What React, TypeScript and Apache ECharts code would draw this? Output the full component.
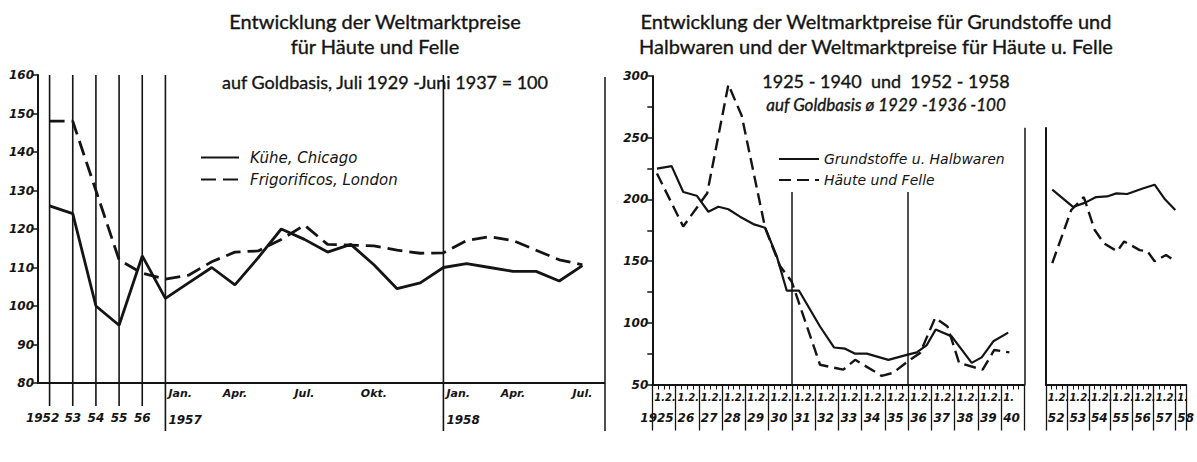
import React, { useEffect, useRef } from "react";
import * as echarts from "echarts";

const INK = "#141414";
const AX_FONT = "DejaVu Sans";
const TITLE_FONT = "Lato";

// ---------- Left chart: Häute und Felle (1952–1958) ----------
const leftCategories = [
  "1952", "1953", "1954", "1955", "1956",
  "1957-01", "1957-02", "1957-03", "1957-04", "1957-05", "1957-06",
  "1957-07", "1957-08", "1957-09", "1957-10", "1957-11", "1957-12",
  "1958-01", "1958-02", "1958-03", "1958-04", "1958-05", "1958-06", "1958-07",
];
const leftYearLabels: Record<string, string> = {
  "1952": "1952", "1953": "53", "1954": "54", "1955": "55", "1956": "56",
};
const leftMonthLabels: Record<string, string> = {
  "1957-04": "Apr.", "1957-07": "Jul.", "1957-10": "Okt.", "1958-04": "Apr.", "1958-07": "Jul.",
};
const leftJanLabels: Record<string, [string, string]> = {
  "1957-01": ["Jan.", "1957"],
  "1958-01": ["Jan.", "1958"],
};
const leftGuideLines = ["1952", "1953", "1954", "1955", "1956", "1957-01", "1958-01"];
const kueheChicago = [126, 124, 100, 95, 113, 102, 106, 110, 105.5, 112.5, 120, 117.3, 114, 116, 110.7, 104.5, 106, 110, 111, 110, 109, 109, 106.5, 110.5];
const frigorificosLondon = [148, 148, 130, 112, 108.5, 107, 108, 111.5, 114, 114.3, 117.3, 121, 116, 115.8, 115.6, 114.5, 113.7, 113.8, 117, 118, 117, 114.5, 112, 110.7];
const leftYMin = 80;
const leftYMax = 160;

// ---------- Right chart: Grundstoffe / Häute (1925–1940, 1952–1958) ----------
const rightYearsA = [1925, 1926, 1927, 1928, 1929, 1930, 1931, 1932, 1933, 1934, 1935, 1936, 1937, 1938, 1939, 1940];
const rightYearLabelsA = ["1925", "26", "27", "28", "29", "30", "31", "32", "33", "34", "35", "36", "37", "38", "39", "40"];
const rightDateLabelsA = ["1.2.", "1.2.", "1.2.", "1.2.", "1.2.", "1.2.", "1.2.", "1.2.", "1.2.", "1.2.", "1.2.", "1.2.", "1.2.", "1.2.", "1.2.", "1."];
const rightYearsB = [1952, 1953, 1954, 1955, 1956, 1957, 1958];
const rightYearLabelsB = ["52", "53", "54", "55", "56", "57", "58"];
const rightDateLabelsB = ["1.2.", "1.2.", "1.2.", "1.2.", "1.2.", "1.2.", "1."];

const grundTimeA = [1925.2, 1925.83, 1926.33, 1926.91, 1927.41, 1927.84, 1928.27, 1928.77, 1929.34, 1929.85, 1930.35, 1930.78, 1931.31, 1932.21, 1932.81, 1933.29, 1933.72, 1934.22, 1935.15, 1935.94, 1936.37, 1936.8, 1937.18, 1937.87, 1938.73, 1939.16, 1939.66, 1940.3];
const grundValA = [225, 227, 206, 203, 190, 194, 192, 186, 180, 177, 154, 126, 126, 97, 80, 79, 75, 75, 70, 74, 76, 82, 94.5, 89, 67.5, 72, 85, 92];
const haeuteTimeA = [1925.2, 1926.33, 1927.36, 1928.27, 1928.84, 1929.85, 1930.49, 1930.99, 1932.21, 1933.21, 1933.72, 1934.86, 1935.36, 1936.0, 1936.51, 1937.16, 1937.69, 1938.19, 1939.2, 1939.7, 1940.35];
const haeuteValA = [221, 178, 205, 293, 268, 177, 146, 133.5, 66, 62, 70, 57, 59.5, 69, 75.5, 104, 97, 67.5, 62, 78, 76];

const grundTimeB = [1952.3, 1953.26, 1953.83, 1954.33, 1954.84, 1955.27, 1955.77, 1956.49, 1957.04, 1957.53, 1958.0];
const grundValB = [208, 194, 197.5, 202, 202.5, 205, 204.5, 209, 212, 200, 191.5];
const haeuteTimeB = [1952.3, 1953.18, 1953.76, 1954.26, 1954.69, 1955.31, 1955.63, 1956.35, 1956.71, 1957.04, 1957.57, 1958.0];
const haeuteValB = [148.5, 191.5, 202, 175.5, 164.5, 158, 166, 159, 158, 150, 155, 150];

// guide lines inside the right chart (year, upper value)
const rightGuideYears = [1931, 1936, 1941];
const rightGuideTops = [206, 206, 258];

const pairs = (xs: number[], ys: number[]) => xs.map((x, i) => [x, ys[i]]);

const labelFont = { fontFamily: AX_FONT, fontStyle: "italic" as const, fontWeight: "bold" as const, color: INK };

function yearLabel(years: number[], dates: string[], yrs: string[]) {
  return (v: number) => {
    const i = years.findIndex((y) => Math.abs(y - v) < 0.01);
    if (i < 0) return "";
    const key = yrs[i].length > 2 ? "w" : "b";
    return `{a|${dates[i]}}\n{${key}|${yrs[i]}}`;
  };
}

const rightRich = {
  a: { ...labelFont, fontSize: 10, lineHeight: 16 },
  b: { ...labelFont, fontSize: 12, lineHeight: 24 },
  w: { ...labelFont, fontSize: 12, lineHeight: 24, padding: [0, 0, 0, -14] },
};

export default function App() {
  const ref = useRef<HTMLDivElement>(null);

  useEffect(() => {
    if (!ref.current) return;
    const chart = echarts.init(ref.current, undefined, { renderer: "svg" });

    const hiddenSymbol = { color: "transparent", borderColor: "transparent", borderWidth: 0, opacity: 0 };

    const option: any = {
      animation: false,
      backgroundColor: "#ffffff",
      grid: [
        { left: 38, top: 75, width: 556, height: 308 },
        { left: 652.3, top: 76, width: 372.2, height: 308.5 },
        { left: 1045.8, top: 128, width: 151.2, height: 256.5 },
      ],
      legend: [
        {
          data: ["Kühe, Chicago", "Frigorificos, London"],
          orient: "vertical",
          left: 195,
          top: 145,
          itemWidth: 38,
          itemHeight: 14,
          itemGap: 7,
          selectedMode: false,
          itemStyle: hiddenSymbol,
          textStyle: { fontFamily: AX_FONT, fontStyle: "italic", fontSize: 15, color: INK, padding: [0, 0, 0, 6] },
        },
        {
          data: ["Grundstoffe u. Halbwaren", "Häute und Felle"],
          orient: "vertical",
          left: 773,
          top: 147,
          itemWidth: 40,
          itemHeight: 14,
          itemGap: 7,
          selectedMode: false,
          itemStyle: hiddenSymbol,
          textStyle: { fontFamily: AX_FONT, fontStyle: "italic", fontSize: 14, color: INK },
        },
      ],
      xAxis: [
        {
          gridIndex: 0,
          type: "category",
          data: leftCategories,
          boundaryGap: true,
          axisLine: { lineStyle: { color: INK, width: 2 } },
          axisTick: {
            alignWithLabel: true,
            interval: (i: number) => i > 5 && i !== 17,
            length: 8,
            lineStyle: { color: INK, width: 1.3 },
          },
          axisLabel: {
            interval: 0,
            margin: 5,
            fontSize: 11,
            ...labelFont,
            formatter: (v: string) => leftMonthLabels[v] ?? "",
          },
          splitLine: { show: false },
        },
        {
          gridIndex: 0,
          type: "category",
          position: "bottom",
          data: leftCategories,
          boundaryGap: true,
          axisLine: { show: false },
          axisTick: { show: false },
          axisLabel: {
            interval: 0,
            margin: 29,
            formatter: (v: string) => {
              const l = leftYearLabels[v];
              if (!l) return "";
              return l.length > 2 ? `{f|${l}}` : `{y|${l}}`;
            },
            rich: {
              y: { ...labelFont, fontSize: 12 },
              f: { ...labelFont, fontSize: 12, padding: [0, 14, 0, 0] },
            },
          },
          splitLine: { show: false },
        },
        {
          gridIndex: 0,
          type: "category",
          position: "bottom",
          data: leftCategories,
          boundaryGap: true,
          axisLine: { show: false },
          axisTick: { show: false },
          axisLabel: {
            interval: 0,
            margin: 0,
            align: "left",
            padding: [0, 0, 0, 3],
            formatter: (v: string) => {
              const l = leftJanLabels[v];
              return l ? `{a|${l[0]}}\n{b|${l[1]}}` : "";
            },
            rich: {
              a: { ...labelFont, fontSize: 11, lineHeight: 20 },
              b: { ...labelFont, fontSize: 12, lineHeight: 34 },
            },
          },
          splitLine: { show: false },
        },
        {
          gridIndex: 1,
          type: "value",
          min: 1925,
          max: 1941,
          interval: 1,
          axisLine: { onZero: false, lineStyle: { color: INK, width: 2 } },
          axisTick: { length: 46, lineStyle: { color: INK, width: 1.3 } },
          minorTick: { show: true, splitNumber: 4, length: 5, lineStyle: { color: INK, width: 1 } },
          splitLine: { show: false },
          axisLabel: {
            margin: 5,
            align: "left",
            padding: [0, 0, 0, 2],
            showMinLabel: true,
            showMaxLabel: false,
            formatter: yearLabel(rightYearsA, rightDateLabelsA, rightYearLabelsA),
            rich: rightRich,
          },
        },
        {
          gridIndex: 2,
          type: "value",
          min: 1952,
          max: 1958.5,
          interval: 1,
          axisLine: { onZero: false, lineStyle: { color: INK, width: 2 } },
          axisTick: { length: 46, lineStyle: { color: INK, width: 1.3 } },
          minorTick: { show: true, splitNumber: 4, length: 5, lineStyle: { color: INK, width: 1 } },
          splitLine: { show: false },
          axisLabel: {
            margin: 5,
            align: "left",
            padding: [0, 0, 0, 2],
            showMinLabel: true,
            formatter: yearLabel(rightYearsB, rightDateLabelsB, rightYearLabelsB),
            rich: rightRich,
          },
        },
      ],
      yAxis: [
        {
          gridIndex: 0,
          type: "value",
          min: leftYMin,
          max: leftYMax,
          interval: 10,
          axisLine: { show: true, lineStyle: { color: INK, width: 2 } },
          axisTick: { show: true, length: 6, lineStyle: { color: INK, width: 1.5 } },
          axisLabel: { ...labelFont, fontSize: 12, margin: 4 },
          splitLine: { show: false },
        },
        {
          gridIndex: 1,
          type: "value",
          min: 50,
          max: 300,
          interval: 25,
          axisLine: { show: true, lineStyle: { color: INK, width: 2 } },
          axisTick: { show: true, length: 5, lineStyle: { color: INK, width: 1.5 } },
          axisLabel: {
            ...labelFont,
            fontSize: 12,
            margin: 4,
            formatter: (v: number) => (v % 50 === 0 ? String(v) : ""),
          },
          splitLine: { show: false },
        },
        {
          gridIndex: 2,
          type: "value",
          min: 50,
          max: 258,
          axisLine: { show: true, lineStyle: { color: INK, width: 2 } },
          axisTick: { show: false },
          axisLabel: { show: false },
          splitLine: { show: false },
        },
      ],
      series: [
        {
          type: "custom",
          name: "guides",
          xAxisIndex: 0,
          yAxisIndex: 0,
          silent: true,
          z: 1,
          data: leftGuideLines.map((c) => [c, leftYMax]),
          encode: { x: 0, y: 1 },
          renderItem: (params: any, api: any) => {
            const x = api.value(0);
            const top = api.coord([x, api.value(1)]);
            const bot = api.coord([x, leftYMin]);
            const isJan = leftGuideLines[params.dataIndex].includes("-");
            return {
              type: "line",
              shape: { x1: top[0], y1: top[1], x2: bot[0], y2: bot[1] + (isJan ? 48 : 23) },
              style: { stroke: INK, lineWidth: 1.6 },
            };
          },
        },
        {
          type: "line",
          name: "Kühe, Chicago",
          xAxisIndex: 0,
          yAxisIndex: 0,
          data: kueheChicago,
          symbol: "none",
          z: 3,
          itemStyle: { color: INK },
          lineStyle: { color: INK, width: 2.8 },
        },
        {
          type: "line",
          name: "Frigorificos, London",
          xAxisIndex: 0,
          yAxisIndex: 0,
          data: frigorificosLondon,
          symbol: "none",
          z: 3,
          itemStyle: { color: INK },
          lineStyle: { color: INK, width: 2.8, type: [15, 7] },
        },
        {
          type: "line",
          name: "Grundstoffe u. Halbwaren",
          xAxisIndex: 3,
          yAxisIndex: 1,
          data: pairs(grundTimeA, grundValA),
          symbol: "none",
          z: 3,
          itemStyle: { color: INK },
          lineStyle: { color: INK, width: 2.2 },
          markLine: {
            silent: true,
            symbol: ["none", "none"],
            label: { show: false },
            lineStyle: { color: INK, type: "solid", width: 1.5 },
            data: rightGuideYears.map((y, i) => [
              { coord: [y, rightGuideTops[i]] },
              { coord: [y, 50] },
            ]),
          },
        },
        {
          type: "line",
          name: "Häute und Felle",
          xAxisIndex: 3,
          yAxisIndex: 1,
          data: pairs(haeuteTimeA, haeuteValA),
          symbol: "none",
          z: 3,
          itemStyle: { color: INK },
          lineStyle: { color: INK, width: 2.4, type: [12, 6] },
        },
        {
          type: "line",
          name: "Grundstoffe u. Halbwaren",
          xAxisIndex: 4,
          yAxisIndex: 2,
          data: pairs(grundTimeB, grundValB),
          symbol: "none",
          z: 3,
          itemStyle: { color: INK },
          lineStyle: { color: INK, width: 2.2 },
        },
        {
          type: "line",
          name: "Häute und Felle",
          xAxisIndex: 4,
          yAxisIndex: 2,
          data: pairs(haeuteTimeB, haeuteValB),
          symbol: "none",
          z: 3,
          itemStyle: { color: INK },
          lineStyle: { color: INK, width: 2.4, type: [12, 6] },
        },
      ],
      graphic: [
        { type: "line", shape: { x1: 605, y1: 77, x2: 605, y2: 431 }, style: { stroke: INK, lineWidth: 1.5 } },
        { type: "line", shape: { x1: 594, y1: 383, x2: 605, y2: 383 }, style: { stroke: INK, lineWidth: 2 } },
        ...[
          { t: "Entwicklung der Weltmarktpreise", x: 375, y: 21, f: `20px ${TITLE_FONT}` },
          { t: "für Häute und Felle", x: 375, y: 46, f: `20px ${TITLE_FONT}` },
          { t: "auf Goldbasis, Juli 1929 -Juni 1937 = 100", x: 385, y: 82, f: `18px ${TITLE_FONT}` },
          { t: "Entwicklung der Weltmarktpreise für Grundstoffe und", x: 876, y: 21, f: `20px ${TITLE_FONT}` },
          { t: "Halbwaren und der Weltmarktpreise für Häute u. Felle", x: 876, y: 46, f: `20px ${TITLE_FONT}` },
          { t: "1925 - 1940  und  1952 - 1958", x: 886, y: 81, f: `18px ${TITLE_FONT}` },
          { t: "auf Goldbasis ø 1929 -1936 -100", x: 886, y: 104, f: `italic 17px ${TITLE_FONT}` },
        ].map((d) => ({
          type: "text",
          x: d.x,
          y: d.y,
          style: {
            text: d.t,
            font: d.f,
            fill: INK,
            stroke: INK,
            lineWidth: 0.35,
            align: "center",
            verticalAlign: "middle",
            textAlign: "center",
            textVerticalAlign: "middle",
          },
        })),
      ],
    };

    chart.setOption(option);
    return () => chart.dispose();
  }, []);

  return (
    <div
      ref={ref}
      style={{ position: "absolute", left: 0, top: 0, width: 1197, height: 462, background: "#fff" }}
    />
  );
}
